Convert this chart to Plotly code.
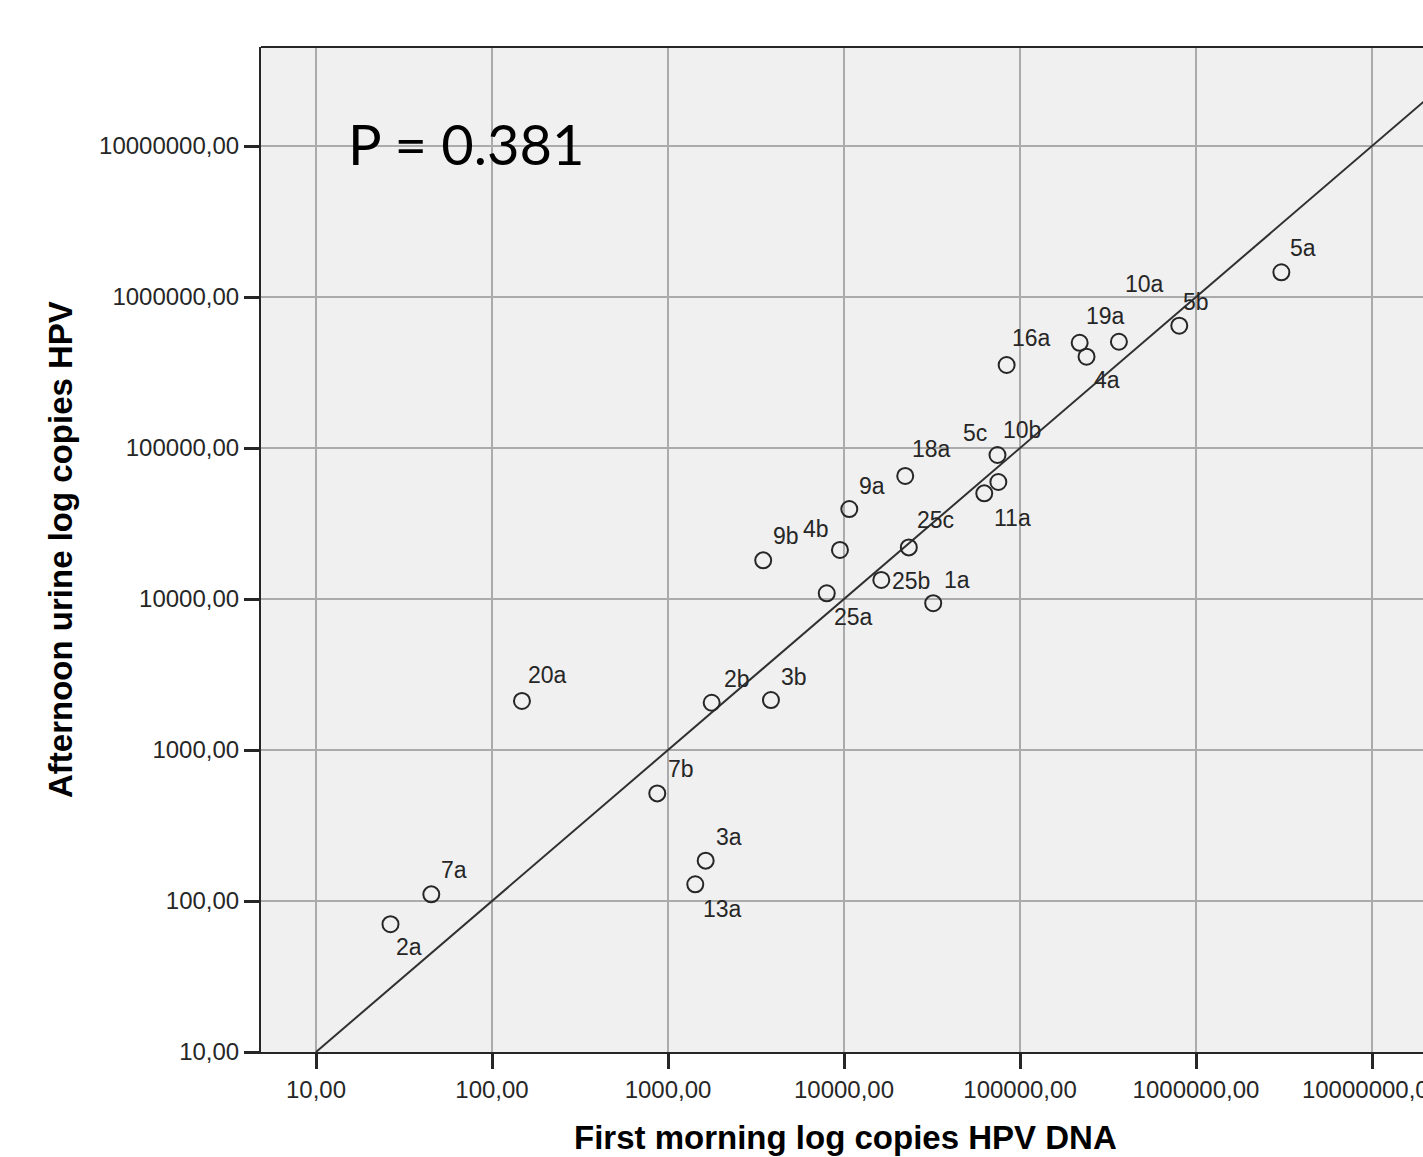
import math
import plotly.graph_objects as go

# ---- data ----
samples = ["2a", "7a", "20a", "7b", "3a", "13a", "2b", "3b", "25a", "9b", "4b", "9a",
           "25b", "25c", "1a", "18a", "11a", "5c", "10b", "16a", "19a", "4a", "10a", "5b", "5a"]
first_morning = [26.5, 45.2, 148, 869, 1637, 1429, 1771, 3846, 7980, 3475, 9485, 10720,
                 16290, 23350, 32130, 22280, 62650, 75340, 74470, 83960, 218300, 238800,
                 364800, 803500, 3055000]
afternoon = [70.2, 110.7, 2113, 516, 185, 129, 2056, 2143, 10915, 18030, 21130, 39450,
             13370, 21980, 9380, 65300, 50120, 59570, 89930, 354800, 497800, 402700,
             505800, 645700, 1459000]

tick_vals = [10, 100, 1000, 10000, 100000, 1000000, 10000000]
tick_text = ["10,00", "100,00", "1000,00", "10000,00", "100000,00", "1000000,00", "10000000,00"]
ref_line_x = [10, 1e8]
ref_line_y = [10, 1e8]
p_text = "P = 0.381"
x_title = "First morning log copies HPV DNA"
y_title = "Afternoon urine log copies HPV"

# label placement offsets (pixels, styling only)
label_offsets = {
    "2a": (19, 23), "7a": (23, -24), "20a": (26, -26), "7b": (24, -24), "3a": (23, -24),
    "13a": (27, 25), "2b": (25, -24), "3b": (23, -23), "25a": (27, 24), "9b": (23, -24),
    "4b": (-24, -21), "9a": (23, -23), "25b": (30, 1), "25c": (27, -27), "1a": (24, -23),
    "18a": (26, -27), "11a": (28, 25), "5c": (-23, -49), "10b": (25, -25), "16a": (25, -27),
    "19a": (26, -27), "4a": (20, 23), "10a": (26, -58), "5b": (17, -24), "5a": (22, -24),
}

FONT = "Liberation Sans, Arial, sans-serif"
DARK = "#262626"

fig = go.Figure()
fig.add_trace(go.Scatter(x=ref_line_x, y=ref_line_y, mode="lines",
                         line=dict(color="#303030", width=2), hoverinfo="skip", showlegend=False))
fig.add_trace(go.Scatter(x=first_morning, y=afternoon, mode="markers",
                         marker=dict(symbol="circle-open", size=16, color=DARK,
                                     line=dict(width=2, color=DARK)),
                         text=samples, showlegend=False))

# annotations on log axes take log10 coordinates
for s, xv, yv in zip(samples, first_morning, afternoon):
    dx, dy = label_offsets[s]
    fig.add_annotation(x=math.log10(xv), y=math.log10(yv), xref="x", yref="y", text=s,
                       showarrow=False, xshift=dx, yshift=-dy,
                       font=dict(family=FONT, size=23, color=DARK))

fig.add_annotation(x=(346 - 261) / 1162, y=(1052 - 144) / 1005, xref="paper", yref="paper",
                   text=p_text, showarrow=False, xanchor="left", yanchor="middle",
                   font=dict(family="Lato, Open Sans, sans-serif", size=56, color="#000000"))
fig.add_annotation(x=(846 - 261) / 1162, y=(1052 - 1137) / 1005, xref="paper", yref="paper",
                   text="<b>" + x_title + "</b>", showarrow=False, xanchor="center", yanchor="middle",
                   font=dict(family=FONT, size=33, color="#000000"))
fig.add_annotation(x=(60 - 261) / 1162, y=(1052 - 550) / 1005, xref="paper", yref="paper",
                   text="<b>" + y_title + "</b>", showarrow=False, textangle=-90,
                   xanchor="center", yanchor="middle",
                   font=dict(family=FONT, size=33, color="#000000"))

# top frame line
fig.add_shape(type="line", xref="paper", yref="paper", x0=0, x1=1, y0=1, y1=1,
              line=dict(color=DARK, width=2))

axis_common = dict(type="log", tickmode="array", tickvals=tick_vals, ticktext=tick_text,
                   showgrid=True, gridcolor="#ABABAB", gridwidth=2, zeroline=False,
                   showline=True, linecolor=DARK, linewidth=2,
                   ticks="outside", ticklen=15, tickwidth=3, tickcolor=DARK,
                   ticklabeloverflow="allow", automargin=False,
                   tickfont=dict(family=FONT, size=24, color=DARK))
fig.update_xaxes(range=[0.6875, 7.2898], **axis_common)
fig.update_yaxes(range=[1.0, 7.656], **axis_common)

fig.update_layout(width=1423, height=1157,
                  margin=dict(l=261, r=0, t=47, b=105, pad=0, autoexpand=False),
                  paper_bgcolor="#FFFFFF", plot_bgcolor="#F0F0F0")

fig.write_html("out.html")
